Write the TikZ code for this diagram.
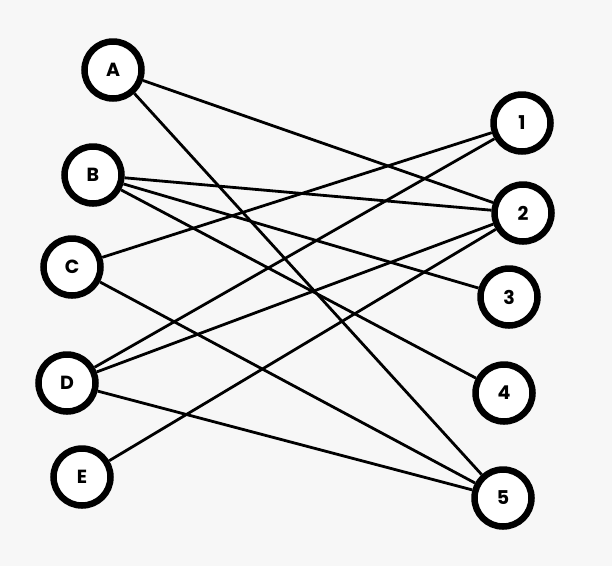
\documentclass[tikz,border=0pt]{standalone}
\usepackage{fontspec}
\setmainfont{Poppins}
\begin{document}
\begin{tikzpicture}[x=1pt,y=-1pt,
  vtx/.style={circle,draw,line width=6.5pt,fill=white,minimum size=57pt,inner sep=0pt,font=\bfseries\fontsize{19}{19}\selectfont},
  edge/.style={line width=2.8pt}]
\fill[black!3] (0,0) rectangle (612,566);
\useasboundingbox (0,0) rectangle (612,566);
\node[vtx] (A) at (113,70){A};
\node[vtx] (B) at (93,175){B};
\node[vtx] (C) at (72,267){C};
\node[vtx] (D) at (67,383){D};
\node[vtx] (E) at (82,477){E};
\node[vtx] (n1) at (522,123){1};
\node[vtx] (n2) at (523,213){2};
\node[vtx] (n3) at (509,297){3};
\node[vtx] (n4) at (504,393){4};
\node[vtx] (n5) at (503,498){5};
\foreach \a/\b in {A/n2,A/n5,B/n2,B/n3,B/n4,C/n1,C/n5,D/n1,D/n2,D/n5,E/n2}
  \draw[edge] (\a) -- (\b);
\end{tikzpicture}
\end{document}
